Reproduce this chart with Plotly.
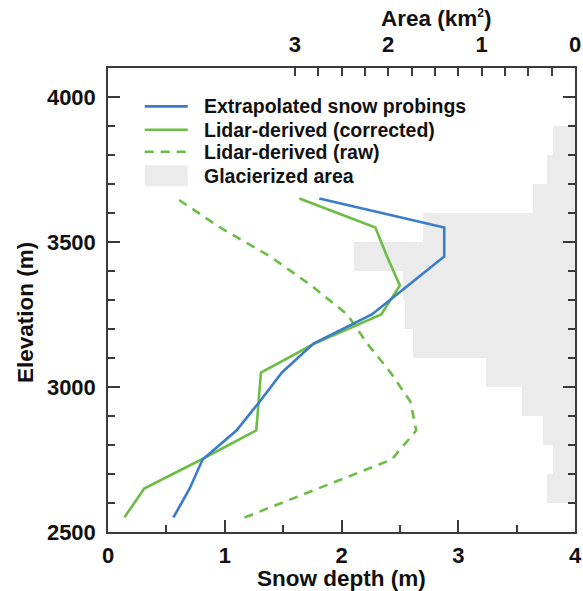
import plotly.graph_objects as go

# ---- data ----
elevation = [2550, 2650, 2750, 2850, 2950, 3050, 3150, 3250, 3350, 3450, 3550, 3650]
probings = [0.56, 0.70, 0.81, 1.10, 1.30, 1.49, 1.76, 2.26, 2.57, 2.88, 2.88, 1.81]
lidar_corrected = [0.14, 0.31, 0.80, 1.27, 1.29, 1.31, 1.77, 2.34, 2.50, 2.39, 2.29, 1.64]
lidar_raw = [1.17, 1.80, 2.43, 2.64, 2.59, 2.42, 2.22, 2.05, 1.74, 1.39, 0.96, 0.59]

area_bins = [2650, 2750, 2850, 2950, 3050, 3150, 3250, 3350, 3450, 3550, 3650, 3750, 3850]
glacier_area = [0.30, 0.24, 0.34, 0.57, 0.95, 1.73, 1.82, 1.84, 2.37, 1.63, 0.45, 0.30, 0.24]

depth_ticks = [0, 1, 2, 3, 4]
area_ticks = [0, 1, 2, 3]
area_minor = [0.25, 0.5, 0.75, 1.25, 1.5, 1.75, 2.25, 2.5, 2.75]
elev_ticks = [2500, 3000, 3500, 4000]

legend_labels = ["Extrapolated snow probings", "Lidar-derived (corrected)",
                 "Lidar-derived (raw)", "Glacierized area"]

BLUE = '#3a7ccc'
GREEN = '#6cbd45'
GREY = '#ebebeb'
AX = '#3a3a3a'
FONT = 'Liberation Sans, Arial, Helvetica, sans-serif'
TICKFONT = dict(family=FONT, size=22, color='#111', weight='bold')

fig = go.Figure()
fig.add_trace(go.Bar(x=glacier_area, y=area_bins, orientation='h', width=100,
                     marker=dict(color=GREY, line=dict(width=0)),
                     xaxis='x', yaxis='y', name=legend_labels[3], showlegend=False))
fig.add_trace(go.Scatter(x=lidar_raw, y=elevation, mode='lines', name=legend_labels[2],
                         line=dict(color=GREEN, width=2.6, dash='9px,7px'),
                         xaxis='x2', yaxis='y', showlegend=False))
fig.add_trace(go.Scatter(x=lidar_corrected, y=elevation, mode='lines', name=legend_labels[1],
                         line=dict(color=GREEN, width=2.6),
                         xaxis='x2', yaxis='y', showlegend=False))
fig.add_trace(go.Scatter(x=probings, y=elevation, mode='lines', name=legend_labels[0],
                         line=dict(color=BLUE, width=2.6),
                         xaxis='x2', yaxis='y', showlegend=False))

axis_common = dict(showline=True, linecolor=AX, linewidth=1.5, ticks='inside',
                   tickcolor=AX, tickwidth=1.5, showgrid=False, zeroline=False,
                   tickfont=TICKFONT, automargin=False)

fig.update_layout(
    template='none',
    width=583, height=591,
    margin=dict(l=108, r=8, t=68, b=59),
    paper_bgcolor='white', plot_bgcolor='white',
    bargap=0,
    xaxis=dict(**axis_common, side='top', range=[5, 0], tickvals=area_ticks, ticklen=8,
               minor=dict(tickvals=area_minor, ticks='inside', ticklen=8,
                          tickcolor=AX, tickwidth=1.5),
               ticklabelstandoff=5, anchor='y'),
    xaxis2=dict(**axis_common, side='bottom', overlaying='x', range=[0, 4],
                tickvals=depth_ticks, ticklen=12,
                minor=dict(dtick=0.5, tick0=0, ticks='inside', ticklen=7,
                           tickcolor=AX, tickwidth=1.5),
                ticklabelstandoff=3, anchor='y'),
    yaxis=dict(**axis_common, range=[2500, 4100], tickvals=elev_ticks, ticklen=12,
               mirror='ticks',
               minor=dict(dtick=100, tick0=2500, ticks='inside', ticklen=7,
                          tickcolor=AX, tickwidth=1.5),
               ticklabelstandoff=6),
    showlegend=False,
)

# ---- axis titles ----
title_font = dict(family=FONT, size=22.5, color='#111', weight='bold')
fig.add_annotation(text='Area (km<sup><span style="font-size:12px">2</span></sup>)',
                   xref='paper', yref='paper',
                   x=0.702, y=1.106, showarrow=False, font=title_font,
                   xanchor='center', yanchor='middle')
fig.add_annotation(text='Snow depth (m)', xref='paper', yref='paper',
                   x=0.5, y=-0.1, showarrow=False, font=title_font,
                   xanchor='center', yanchor='middle')
fig.add_annotation(text='Elevation (m)', xref='paper', yref='paper',
                   x=-0.178, y=0.474, showarrow=False, font=title_font,
                   textangle=-90, xanchor='center', yanchor='middle')

# ---- legend (drawn in paper coordinates) ----
lx0, lx1, tx = 0.0786, 0.1708, 0.2008
rows = [0.9174, 0.8668, 0.8194, 0.7677]
leg_font = dict(family=FONT, size=19.5, color='#111', weight='bold')
fig.add_shape(type='line', xref='paper', yref='paper', x0=lx0, x1=lx1, y0=rows[0], y1=rows[0],
              line=dict(color=BLUE, width=2.6))
fig.add_shape(type='line', xref='paper', yref='paper', x0=lx0, x1=lx1, y0=rows[1], y1=rows[1],
              line=dict(color=GREEN, width=2.6))
fig.add_shape(type='line', xref='paper', yref='paper', x0=lx0, x1=lx1, y0=rows[2], y1=rows[2],
              line=dict(color=GREEN, width=2.6, dash='9px,7px'))
fig.add_shape(type='rect', xref='paper', yref='paper', x0=lx0, x1=lx1,
              y0=rows[3] - 0.0226, y1=rows[3] + 0.0226,
              line=dict(width=0), fillcolor=GREY)
for lab, ry in zip(legend_labels, rows):
    fig.add_annotation(text=lab, xref='paper', yref='paper', x=tx, y=ry,
                       showarrow=False, font=leg_font, xanchor='left', yanchor='middle')

fig.write_html("out.html",
               config={'displayModeBar': False},
               post_script="document.body.style.margin='0';"
                           "document.body.style.overflow='hidden';")
